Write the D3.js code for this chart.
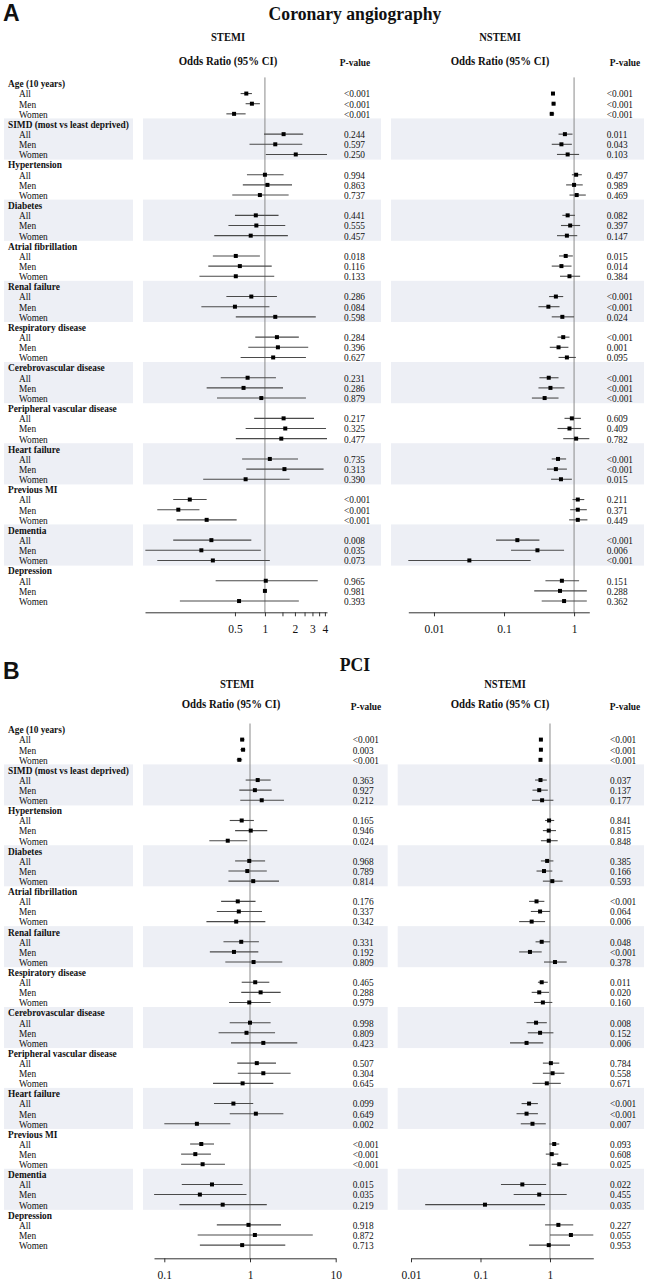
<!DOCTYPE html>
<html><head><meta charset="utf-8">
<script src="https://cdn.jsdelivr.net/npm/d3@7"></script>
<style>body{margin:0;background:#fff} svg{display:block}</style>
</head><body>
<svg id="c" width="650" height="1282"></svg>
<script>
const groups = ["Age (10 years)", "SIMD (most vs least deprived)", "Hypertension", "Diabetes",
  "Atrial fibrillation", "Renal failure", "Respiratory disease", "Cerebrovascular disease",
  "Peripheral vascular disease", "Heart failure", "Previous MI", "Dementia", "Depression"];
const subgroups = ["All", "Men", "Women"];

// Coronary angiography - STEMI
const caStemiOR = [0.65,0.74,0.49, 1.54,1.27,2.04, 1.00,1.06,0.89, 0.81,0.82,0.72, 0.51,0.56,0.51, 0.73,0.50,1.27, 1.32,1.35,1.21, 0.67,0.61,0.92, 1.54,1.60,1.46, 1.12,1.57,0.64, 0.176,0.135,0.26, 0.29,0.23,0.30, 1.02,1.00,0.55];
const caStemiLo = [0.57,0.64,0.41, 0.98,0.70,1.02, 0.66,0.60,0.47, 0.50,0.43,0.31, 0.30,0.27,0.22, 0.41,0.23,0.51, 0.80,0.68,0.57, 0.36,0.26,0.33, 0.78,0.64,0.51, 0.59,0.65,0.24, 0.12,0.083,0.13, 0.12,0.063,0.083, 0.32,1.00,0.14];
const caStemiHi = [0.74,0.89,0.64, 2.42,2.37,4.2, 1.54,1.87,1.73, 1.37,1.60,1.70, 0.89,1.17,1.24, 1.32,1.11,3.24, 2.19,2.72,2.58, 1.29,1.52,2.58, 3.11,4.1,4.2, 2.15,3.88,1.77, 0.26,0.22,0.52, 0.73,0.91,1.12, 3.39,1.00,2.19];
const caStemiP = ["<0.001","<0.001","<0.001", "0.244","0.597","0.250", "0.994","0.863","0.737", "0.441","0.555","0.457", "0.018","0.116","0.133", "0.286","0.084","0.598", "0.284","0.396","0.627", "0.231","0.286","0.879", "0.217","0.325","0.477", "0.735","0.313","0.390", "<0.001","<0.001","<0.001", "0.008","0.035","0.073", "0.965","0.981","0.393"];

// Coronary angiography - NSTEMI
const caNstemiOR = [0.50,0.51,0.48, 0.74,0.66,0.81, 1.07,1.00,1.09, 0.81,0.88,0.79, 0.76,0.66,0.86, 0.55,0.43,0.68, 0.70,0.60,0.79, 0.435,0.46,0.38, 0.93,0.86,1.07, 0.59,0.55,0.65, 1.13,1.13,1.13, 0.155,0.30,0.032, 0.67,0.63,0.72];
const caNstemiLo = [0.47,0.48,0.45, 0.60,0.48,0.57, 0.93,0.77,0.86, 0.68,0.65,0.57, 0.61,0.48,0.63, 0.44,0.31,0.48, 0.58,0.45,0.60, 0.32,0.31,0.25, 0.73,0.58,0.70, 0.48,0.41,0.47, 0.95,0.88,0.85, 0.077,0.126,0.0043, 0.39,0.27,0.345];
const caNstemiHi = [0.53,0.54,0.52, 0.95,0.93,1.18, 1.29,1.33,1.47, 1.03,1.22,1.11, 0.96,0.92,1.22, 0.70,0.62,1.00, 0.86,0.83,1.06, 0.60,0.73,0.60, 1.25,1.26,1.65, 0.77,0.79,0.93, 1.40,1.52,1.55, 0.32,0.72,0.24, 1.18,1.52,1.52];
const caNstemiP = ["<0.001","<0.001","<0.001", "0.011","0.043","0.103", "0.497","0.989","0.469", "0.082","0.397","0.147", "0.015","0.014","0.384", "<0.001","<0.001","0.024", "<0.001","0.001","0.095", "<0.001","<0.001","<0.001", "0.609","0.409","0.782", "<0.001","<0.001","0.015", "0.211","0.371","0.449", "<0.001","0.006","<0.001", "0.151","0.288","0.362"];

// PCI - STEMI
const pciStemiOR = [0.81,0.83,0.75, 1.23,1.14,1.37, 0.80,1.02,0.55, 0.98,0.93,1.09, 0.72,0.74,0.69, 0.79,0.65,1.10, 1.15,1.33,0.98, 1.00,0.91,1.43, 1.20,1.43,0.82, 0.64,1.17,0.24, 0.27,0.23,0.28, 0.36,0.26,0.48, 0.96,1.14,0.81];
const pciStemiLo = [0.77,0.77,0.70, 0.89,0.75,0.77, 0.58,0.67,0.335, 0.67,0.56,0.56, 0.46,0.41,0.31, 0.49,0.34,0.515, 0.80,0.79,0.57, 0.58,0.43,0.60, 0.71,0.72,0.37, 0.38,0.58,0.10, 0.20,0.157,0.157, 0.16,0.076,0.15, 0.41,0.245,0.26];
const pciStemiHi = [0.86,0.88,0.81, 1.74,1.79,2.49, 1.11,1.59,0.93, 1.50,1.57,2.18, 1.16,1.38,1.51, 1.27,1.25,2.38, 1.68,2.28,1.74, 1.74,1.96,3.56, 2.01,2.98,1.87, 1.09,2.45,0.59, 0.38,0.35,0.51, 0.82,0.91,1.57, 2.30,5.4,2.58];
const pciStemiP = ["<0.001","0.003","<0.001", "0.363","0.927","0.212", "0.165","0.946","0.024", "0.968","0.789","0.814", "0.176","0.337","0.342", "0.331","0.192","0.809", "0.465","0.288","0.979", "0.998","0.809","0.423", "0.507","0.304","0.645", "0.099","0.649","0.002", "<0.001","<0.001","<0.001", "0.015","0.035","0.219", "0.918","0.872","0.713"];

// PCI - NSTEMI
const pciNstemiOR = [0.74,0.74,0.73, 0.73,0.70,0.77, 0.97,0.96,0.96, 0.91,0.82,1.08, 0.64,0.72,0.545, 0.76,0.515,1.18, 0.76,0.70,0.79, 0.63,0.72,0.46, 1.03,1.09,0.90, 0.50,0.46,0.56, 1.15,1.06,1.36, 0.40,0.70,0.116, 1.32,2.00,0.96];
const pciNstemiLo = [0.71,0.71,0.70, 0.61,0.56,0.55, 0.85,0.79,0.74, 0.74,0.64,0.79, 0.50,0.53,0.36, 0.62,0.36,0.82, 0.67,0.545,0.59, 0.46,0.48,0.266, 0.79,0.79,0.56, 0.39,0.33,0.38, 0.98,0.87,1.06, 0.197,0.30,0.016, 0.85,1.00,0.50];
const pciNstemiHi = [0.77,0.77,0.76, 0.90,0.93,1.12, 1.15,1.22,1.29, 1.12,1.08,1.52, 0.83,1.00,0.85, 1.00,0.76,1.74, 0.93,0.97,1.08, 0.90,1.12,0.80, 1.36,1.61,1.43, 0.67,0.67,0.87, 1.36,1.32,1.83, 0.88,1.74,0.85, 2.16,4.2,1.94];
const pciNstemiP = ["<0.001","<0.001","<0.001", "0.037","0.137","0.177", "0.841","0.815","0.848", "0.385","0.166","0.593", "<0.001","0.064","0.006", "0.048","<0.001","0.378", "0.011","0.020","0.160", "0.008","0.152","0.006", "0.784","0.558","0.671", "<0.001","<0.001","0.007", "0.093","0.608","0.025", "0.022","0.455","0.035", "0.227","0.055","0.953"];

// axis ticks
const caStemiTicks = [0.5, 1, 1.5, 2, 2.5, 3, 3.5, 4];
const caStemiTickLabels = [0.5, 1, 2, 3, 4];
const caNstemiTicks = [0.01, 0.1, 1];
const pciStemiTicks = [0.1, 1, 10];
const pciNstemiTicks = [0.01, 0.1, 1];

const svg = d3.select("#c");
const SERIF = "'Liberation Serif','Times New Roman',serif";
const BAND = "#edeff5";

function txt(g, x, y, s, o = {}) {
  const t = g.append("text")
    .attr("transform", `translate(${x},${y}) scale(${o.sx ?? 0.85},1)`)
    .attr("font-family", o.family || SERIF)
    .attr("font-size", o.size || 11)
    .attr("font-weight", o.bold ? "bold" : "normal")
    .attr("text-anchor", o.anchor || "start")
    .attr("fill", "#111")
    .text(s);
  if (o.mid) t.attr("dy", "0.35em");
  return t;
}

function panel(cfg) {
  const g = svg.append("g");
  const nRows = groups.length * 4;
  const y = d3.scaleLinear().domain([0, nRows - 1]).range([cfg.y0, cfg.y0 + (nRows - 1) * cfg.step]);

  // headings
  txt(g, 3, cfg.letterY, cfg.letter, {family: "'Liberation Sans',Arial,sans-serif", size: 23, bold: true, sx: 1});
  txt(g, 355, cfg.titleY, cfg.title, {size: 19, bold: true, anchor: "middle", sx: 0.93});
  cfg.sides.forEach(s => {
    txt(g, s.hx, cfg.sideY, s.name, {size: 12, bold: true, anchor: "middle", sx: 0.88});
    txt(g, s.ox, cfg.orY, "Odds Ratio (95% CI)", {size: 12, bold: true, anchor: "middle", sx: 0.9});
    txt(g, s.px, cfg.pY, "P-value", {size: 10.5, bold: true, anchor: "middle", sx: 0.9});
  });

  // bands
  groups.forEach((gr, gi) => {
    if (gi % 2 === 1) {
      const top = y(gi * 4) - cfg.step * 0.55;
      const h = cfg.step * 4 + 0.6;
      [[4, 133]].concat(cfg.sides.map(s => s.band)).forEach(([x0, x1]) => {
        g.append("rect").attr("x", x0).attr("y", top).attr("width", x1 - x0).attr("height", h).attr("fill", BAND);
      });
    }
  });

  // labels
  groups.forEach((gr, gi) => {
    txt(g, 8, y(gi * 4), gr, {bold: true, mid: true});
    subgroups.forEach((sg, si) => txt(g, 19, y(gi * 4 + si + 1), sg, {mid: true}));
  });

  cfg.sides.forEach(s => {
    const x = d3.scaleLog().domain(s.domain).range(s.range).clamp(true);
    // reference line
    g.append("line").attr("x1", x(1)).attr("x2", x(1))
      .attr("y1", y(0) - 6).attr("y2", cfg.axisY)
      .attr("stroke", "#8a8a8a").attr("stroke-width", 1);
    const rows = s.or.map((v, i) => ({v, lo: s.lo[i], hi: s.hi[i], p: s.p[i], r: Math.floor(i / 3) * 4 + (i % 3) + 1}));
    g.selectAll(null).data(rows).join("line")
      .attr("x1", d => x(d.lo)).attr("x2", d => x(d.hi))
      .attr("y1", d => y(d.r)).attr("y2", d => y(d.r))
      .attr("stroke", "#4a4a4a").attr("stroke-width", 1.1);
    g.selectAll(null).data(rows).join("rect")
      .attr("x", d => x(d.v) - 2).attr("y", d => y(d.r) - 2)
      .attr("width", 4).attr("height", 4).attr("fill", "#000");
    rows.forEach(d => txt(g, s.pvx, y(d.r), d.p, {mid: true}));

    // axis
    const ax = d3.axisBottom(x).tickValues(s.ticks)
      .tickFormat(v => s.labels.includes(v) ? String(v) : "")
      .tickSize(4).tickSizeOuter(0).tickPadding(9);
    const ag = g.append("g").attr("transform", `translate(0,${cfg.axisY})`).call(ax);
    ag.select(".domain").attr("stroke", "#333");
    ag.selectAll(".tick line").attr("stroke", "#333");
    ag.selectAll("text").attr("font-family", SERIF).attr("font-size", 11.5).attr("fill", "#111");
  });
}

panel({
  letter: "A", letterY: 21, title: "Coronary angiography", titleY: 20,
  sideY: 41, orY: 65, pY: 66, y0: 83.4, step: 10.15, axisY: 612.3,
  sides: [
    {name: "STEMI", hx: 228, ox: 228, px: 355, band: [143, 381], pvx: 344,
     domain: [1/16, 4.2], range: [145, 327], ticks: caStemiTicks, labels: caStemiTickLabels,
     or: caStemiOR, lo: caStemiLo, hi: caStemiHi, p: caStemiP},
    {name: "NSTEMI", hx: 500, ox: 500, px: 625, band: [391, 644], pvx: 606.7,
     domain: [0.0043, 1.65], range: [408.3, 589.3], ticks: caNstemiTicks, labels: caNstemiTicks,
     or: caNstemiOR, lo: caNstemiLo, hi: caNstemiHi, p: caNstemiP}
  ]
});

panel({
  letter: "B", letterY: 679, title: "PCI", titleY: 671,
  sideY: 688, orY: 708, pY: 710, y0: 729.5, step: 10.11, axisY: 1258.3,
  sides: [
    {name: "STEMI", hx: 237, ox: 231, px: 366, band: [143, 387.7], pvx: 352.7,
     domain: [0.0758, 10], range: [154, 335.7], ticks: pciStemiTicks, labels: pciStemiTicks,
     or: pciStemiOR, lo: pciStemiLo, hi: pciStemiHi, p: pciStemiP},
    {name: "NSTEMI", hx: 505, ox: 500, px: 625, band: [397.7, 644], pvx: 610,
     domain: [0.01, 4.2], range: [411, 593.3], ticks: pciNstemiTicks, labels: pciNstemiTicks,
     or: pciNstemiOR, lo: pciNstemiLo, hi: pciNstemiHi, p: pciNstemiP}
  ]
});
</script>
</body></html>
